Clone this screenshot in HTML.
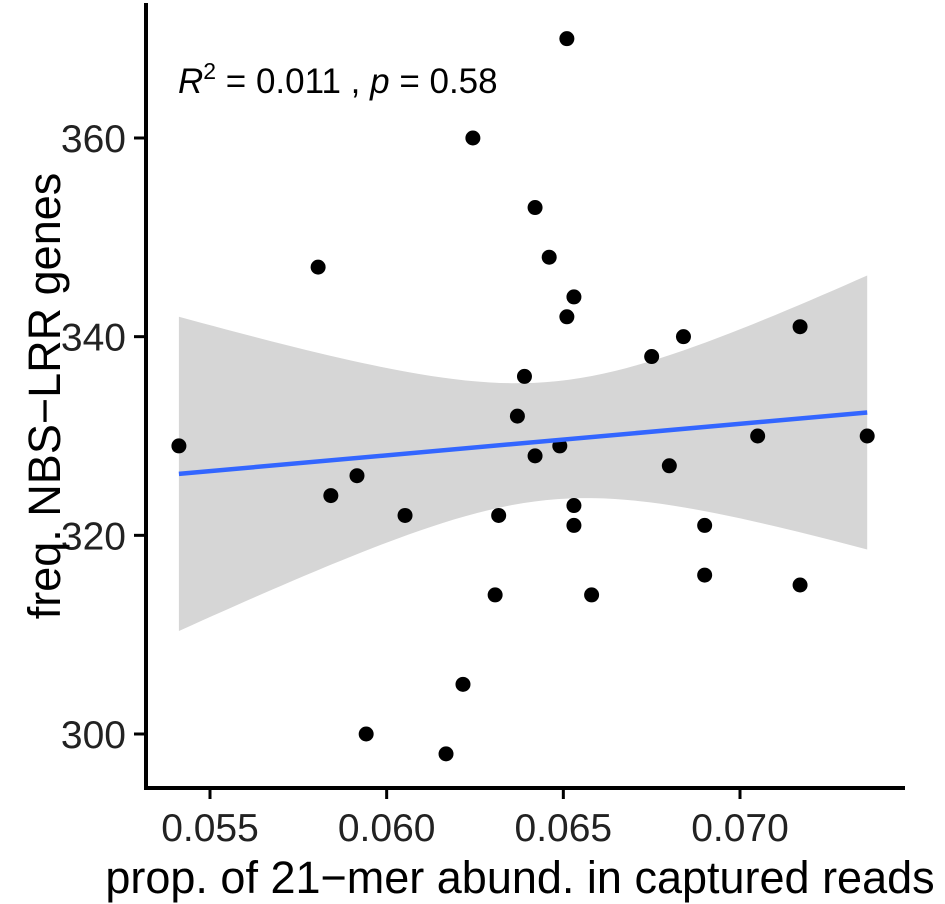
<!DOCTYPE html>
<html><head><meta charset="utf-8"><style>
body{margin:0;background:#fff}
svg{display:block;font-family:"Liberation Sans",Arial,sans-serif}
</style></head><body>
<svg id="chart" width="945" height="904" viewBox="0 0 945 904">
<g id="band"></g>
<g id="pts"></g>
<g id="fit"></g>
<g id="axes"></g>
<text x="178" y="93" font-size="35" fill="#000"><tspan font-style="italic">R</tspan><tspan font-size="23" dy="-14">2</tspan><tspan dy="14"> = 0.011 , </tspan><tspan font-style="italic">p</tspan><tspan> = 0.58</tspan></text>
<text x="520" y="893" font-size="45" text-anchor="middle" fill="#000">prop. of 21−mer abund. in captured reads</text>
<text transform="translate(60,396) rotate(-90)" font-size="45" text-anchor="middle" fill="#000">freq. NBS−LRR genes</text>
</svg>
<script>
const xVals=[0.05412,0.05806,0.05842,0.05916,0.06052,0.05942,0.06168,0.06216,0.06244,0.06307,0.06317,0.0637,0.0639,0.0642,0.0642,0.0646,0.0649,0.0653,0.0653,0.0651,0.0651,0.0653,0.0658,0.0675,0.0680,0.0684,0.0690,0.0690,0.0705,0.0717,0.0717,0.0736];
const yVals=[329,347,324,326,322,300,298,305,360,314,322,332,336,353,328,348,329,323,321,370,342,344,314,338,327,340,316,321,330,315,341,330];
const xTicks=[0.055,0.060,0.065,0.070];
const xTickLabels=["0.055","0.060","0.065","0.070"];
const yTicks=[300,320,340,360];
const yTickLabels=["300","320","340","360"];
const NS="http://www.w3.org/2000/svg";
const sx=v=>210+(v-0.055)*(530/0.015);
const sy=v=>138+(360-v)*(596/60);
function mk(tag,attrs,parent){const e=document.createElementNS(NS,tag);for(const k in attrs)e.setAttribute(k,attrs[k]);parent.appendChild(e);return e;}
const n=xVals.length;
const mx=xVals.reduce((a,b)=>a+b)/n,my=yVals.reduce((a,b)=>a+b)/n;
let sxx=0,sxy=0;for(let i=0;i<n;i++){sxx+=(xVals[i]-mx)**2;sxy+=(xVals[i]-mx)*(yVals[i]-my);}
const b=sxy/sxx,a=my-b*mx;
let sse=0;for(let i=0;i<n;i++)sse+=(yVals[i]-a-b*xVals[i])**2;
const s=Math.sqrt(sse/(n-2)),t=2.04;
const x0=Math.min(...xVals),x1=Math.max(...xVals);
let up=[],lo=[];
for(let k=0;k<=60;k++){const x=x0+(x1-x0)*k/60;const f=a+b*x;const se=s*Math.sqrt(1/n+(x-mx)**2/sxx);up.push(sx(x)+","+sy(f+t*se));lo.unshift(sx(x)+","+sy(f-t*se));}
const band=mk('polygon',{points:up.concat(lo).join(' '),fill:'#d6d6d6'},document.getElementById('band'));


const ln=mk('line',{x1:sx(x0),y1:sy(a+b*x0),x2:sx(x1),y2:sy(a+b*x1),stroke:'#3366FF','stroke-width':4.5},document.getElementById('fit'));


const pg=document.getElementById('pts');
for(let i=0;i<n;i++){const c=mk('circle',{cx:sx(xVals[i]),cy:sy(yVals[i]),r:7.5,fill:'#000'},pg);

}
const ax=document.getElementById('axes');
const yl=mk('line',{x1:146,y1:3,x2:146,y2:790,stroke:'#000','stroke-width':4},ax);


const xl=mk('line',{x1:144,y1:788,x2:905,y2:788,stroke:'#000','stroke-width':4},ax);


xTicks.forEach((v,i)=>{const X=sx(v);
const tk=mk('line',{x1:X,y1:788,x2:X,y2:799,stroke:'#000','stroke-width':3},ax);


const tx=mk('text',{x:X,y:841,'font-size':39,'text-anchor':'middle',fill:'#222'},ax);tx.textContent=xTickLabels[i];

});
yTicks.forEach((v,i)=>{const Y=sy(v);
const tk=mk('line',{x1:134,y1:Y,x2:146,y2:Y,stroke:'#000','stroke-width':3},ax);


const tx=mk('text',{x:126,y:Y+14,'font-size':39,'text-anchor':'end',fill:'#222'},ax);tx.textContent=yTickLabels[i];

});
</script>
</body></html>
